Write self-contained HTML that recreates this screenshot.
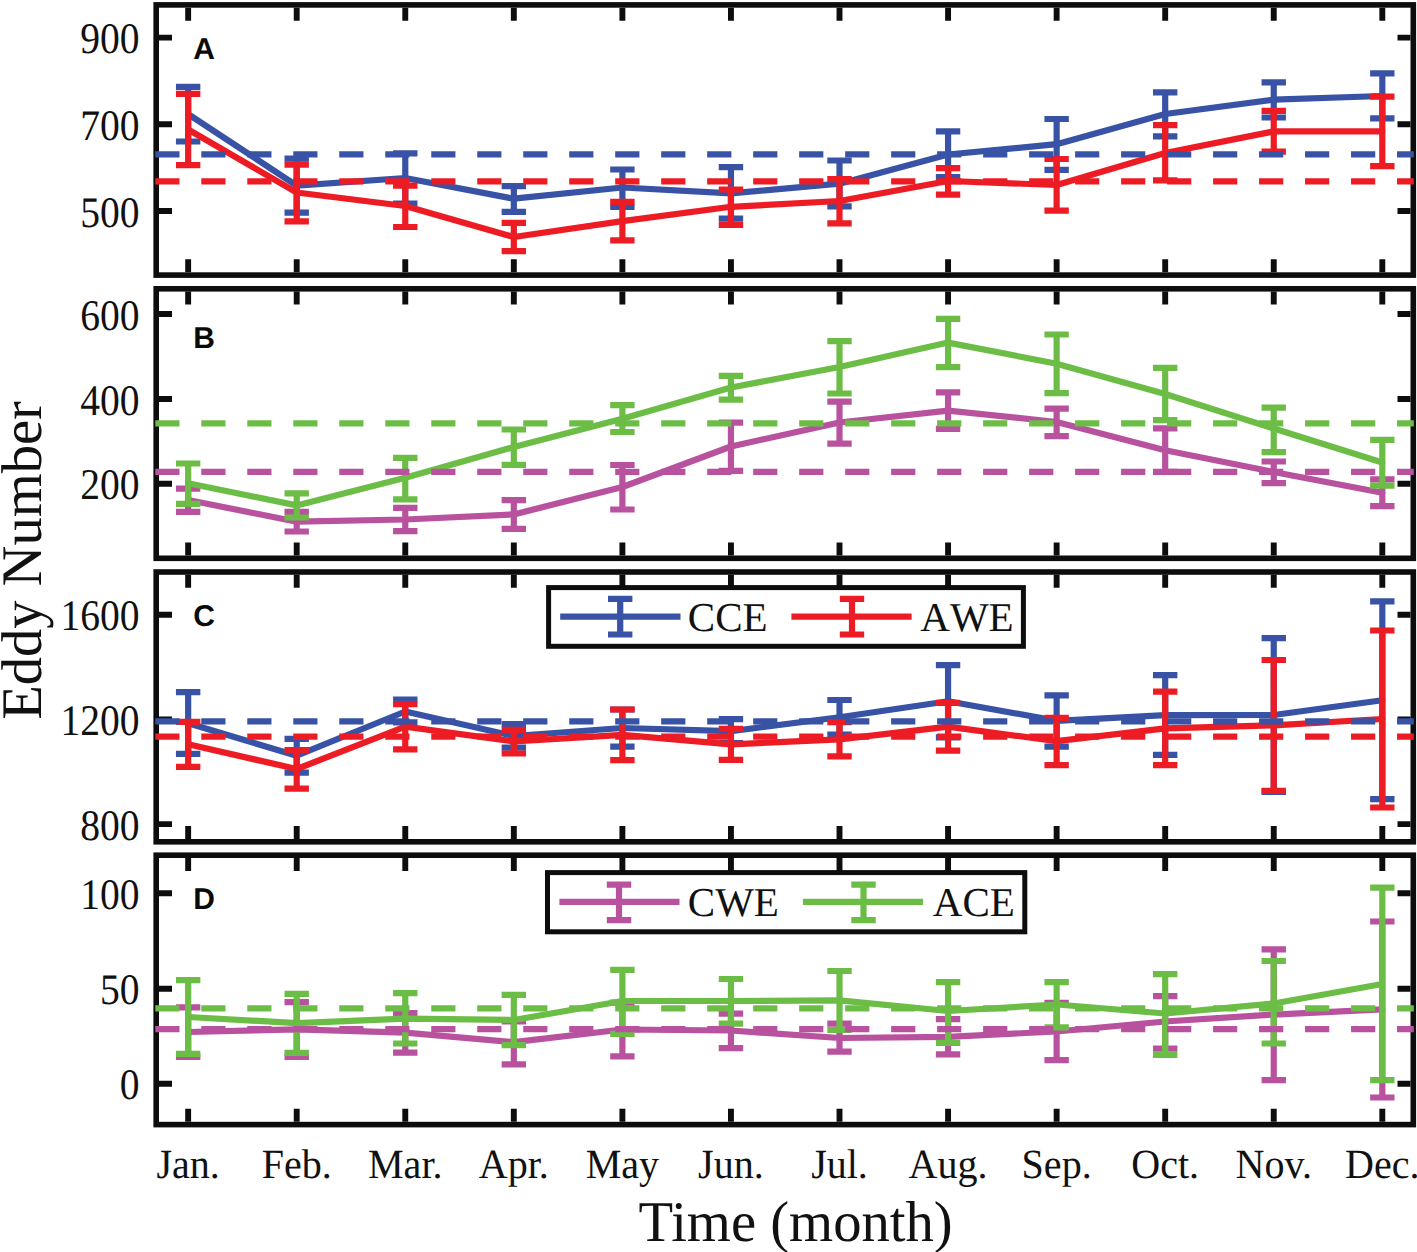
<!DOCTYPE html><html><head><meta charset="utf-8"><style>html,body{margin:0;padding:0;background:#fff;}body{width:1417px;height:1252px;overflow:hidden;position:relative;}svg{position:absolute;left:0;top:0;}.s{font-family:"Liberation Serif",serif;fill:#111;text-rendering:geometricPrecision;}.b{font-family:"Liberation Sans",sans-serif;font-weight:bold;fill:#0a0a0a;text-rendering:geometricPrecision;}</style></head><body>
<svg width="1417" height="1252" viewBox="0 0 1417 1252">
<rect x="156.2" y="4.9" width="1257.1" height="270.2" fill="none" stroke="#0d0d0d" stroke-width="5.6"/>
<path d="M188.15 7.7V20.7M188.15 272.3V259.3M296.71 7.7V20.7M296.71 272.3V259.3M405.27 7.7V20.7M405.27 272.3V259.3M513.83 7.7V20.7M513.83 272.3V259.3M622.39 7.7V20.7M622.39 272.3V259.3M730.95 7.7V20.7M730.95 272.3V259.3M839.51 7.7V20.7M839.51 272.3V259.3M948.07 7.7V20.7M948.07 272.3V259.3M1056.63 7.7V20.7M1056.63 272.3V259.3M1165.19 7.7V20.7M1165.19 272.3V259.3M1273.75 7.7V20.7M1273.75 272.3V259.3M1382.31 7.7V20.7M1382.31 272.3V259.3M159 37.6H172M1410.5 37.6H1397.5M159 124.3H172M1410.5 124.3H1397.5M159 211H172M1410.5 211H1397.5" stroke="#0d0d0d" stroke-width="5.9" fill="none"/>
<polyline points="188.15,114.2 296.71,185.6 405.27,178 513.83,198.7 622.39,187.5 730.95,193.3 839.51,183.7 948.07,154.5 1056.63,144.2 1165.19,114 1273.75,99.7 1382.31,96" fill="none" stroke="#3853a5" stroke-width="6.2" stroke-linejoin="round" stroke-linecap="round"/>
<path d="M188.15 86.8V141.5M175.95 86.8H200.35M175.95 141.5H200.35M296.71 158.6V212.6M284.51 158.6H308.91M284.51 212.6H308.91M405.27 153.3V203.7M393.07 153.3H417.47M393.07 203.7H417.47M513.83 186.2V211.8M501.63 186.2H526.03M501.63 211.8H526.03M622.39 169.5V207M610.19 169.5H634.59M610.19 207H634.59M730.95 167.1V218.7M718.75 167.1H743.15M718.75 218.7H743.15M839.51 160.5V206.3M827.31 160.5H851.71M827.31 206.3H851.71M948.07 131.3V177.1M935.87 131.3H960.27M935.87 177.1H960.27M1056.63 119V169.9M1044.43 119H1068.83M1044.43 169.9H1068.83M1165.19 92.3V136.4M1152.99 92.3H1177.39M1152.99 136.4H1177.39M1273.75 82.3V117.5M1261.55 82.3H1285.95M1261.55 117.5H1285.95M1382.31 73.3V118.3M1370.11 73.3H1394.51M1370.11 118.3H1394.51" fill="none" stroke="#3853a5" stroke-width="6.2"/>
<polyline points="188.15,129.5 296.71,192.5 405.27,206 513.83,237 622.39,221.1 730.95,206.8 839.51,201 948.07,181 1056.63,185 1165.19,153 1273.75,131.4 1382.31,131.4" fill="none" stroke="#ed1c24" stroke-width="6.2" stroke-linejoin="round" stroke-linecap="round"/>
<path d="M188.15 93.9V165.1M175.95 93.9H200.35M175.95 165.1H200.35M296.71 164.6V221.3M284.51 164.6H308.91M284.51 221.3H308.91M405.27 185.6V227M393.07 185.6H417.47M393.07 227H417.47M513.83 222.8V251.1M501.63 222.8H526.03M501.63 251.1H526.03M622.39 201.9V240.4M610.19 201.9H634.59M610.19 240.4H634.59M730.95 189.5V224.9M718.75 189.5H743.15M718.75 224.9H743.15M839.51 179.1V223.3M827.31 179.1H851.71M827.31 223.3H851.71M948.07 168.2V194.6M935.87 168.2H960.27M935.87 194.6H960.27M1056.63 159V210.6M1044.43 159H1068.83M1044.43 210.6H1068.83M1165.19 125.2V180.3M1152.99 125.2H1177.39M1152.99 180.3H1177.39M1273.75 110.9V151.7M1261.55 110.9H1285.95M1261.55 151.7H1285.95M1382.31 96.6V166.1M1370.11 96.6H1394.51M1370.11 166.1H1394.51" fill="none" stroke="#ed1c24" stroke-width="6.2"/>
<line x1="155.3" y1="154.3" x2="1413.8" y2="154.3" stroke="#3853a5" stroke-width="6.3" stroke-dasharray="24.2 21.79"/>
<line x1="155.3" y1="181.3" x2="1413.8" y2="181.3" stroke="#ed1c24" stroke-width="6.3" stroke-dasharray="24.2 21.79"/>
<text class="s" transform="translate(139.6 53.2) scale(0.905 1)" font-size="43.7" text-anchor="end">900</text>
<text class="s" transform="translate(139.6 139.9) scale(0.905 1)" font-size="43.7" text-anchor="end">700</text>
<text class="s" transform="translate(139.6 226.6) scale(0.905 1)" font-size="43.7" text-anchor="end">500</text>
<text class="b" x="193.2" y="58.6" font-size="30">A</text>
<rect x="156.2" y="288.8" width="1257.1" height="269.5" fill="none" stroke="#0d0d0d" stroke-width="5.6"/>
<path d="M188.15 291.6V304.6M188.15 555.5V542.5M296.71 291.6V304.6M296.71 555.5V542.5M405.27 291.6V304.6M405.27 555.5V542.5M513.83 291.6V304.6M513.83 555.5V542.5M622.39 291.6V304.6M622.39 555.5V542.5M730.95 291.6V304.6M730.95 555.5V542.5M839.51 291.6V304.6M839.51 555.5V542.5M948.07 291.6V304.6M948.07 555.5V542.5M1056.63 291.6V304.6M1056.63 555.5V542.5M1165.19 291.6V304.6M1165.19 555.5V542.5M1273.75 291.6V304.6M1273.75 555.5V542.5M1382.31 291.6V304.6M1382.31 555.5V542.5M159 314H172M1410.5 314H1397.5M159 399H172M1410.5 399H1397.5M159 483.8H172M1410.5 483.8H1397.5" stroke="#0d0d0d" stroke-width="5.9" fill="none"/>
<polyline points="188.15,500 296.71,521.7 405.27,519.5 513.83,514.4 622.39,487 730.95,446.5 839.51,422.5 948.07,410.6 1056.63,422 1165.19,450.2 1273.75,472 1382.31,492.8" fill="none" stroke="#b8529f" stroke-width="6.2" stroke-linejoin="round" stroke-linecap="round"/>
<path d="M188.15 488.6V511.9M175.95 488.6H200.35M175.95 511.9H200.35M296.71 511.9V531.5M284.51 511.9H308.91M284.51 531.5H308.91M405.27 507.9V531.2M393.07 507.9H417.47M393.07 531.2H417.47M513.83 500.1V528.9M501.63 500.1H526.03M501.63 528.9H526.03M622.39 465V509.5M610.19 465H634.59M610.19 509.5H634.59M730.95 422.6V470.9M718.75 422.6H743.15M718.75 470.9H743.15M839.51 401.7V443.6M827.31 401.7H851.71M827.31 443.6H851.71M948.07 392.4V428.9M935.87 392.4H960.27M935.87 428.9H960.27M1056.63 408.6V436.1M1044.43 408.6H1068.83M1044.43 436.1H1068.83M1165.19 428.3V471.8M1152.99 428.3H1177.39M1152.99 471.8H1177.39M1273.75 461.5V483.2M1261.55 461.5H1285.95M1261.55 483.2H1285.95M1382.31 479.4V506.1M1370.11 479.4H1394.51M1370.11 506.1H1394.51" fill="none" stroke="#b8529f" stroke-width="6.2"/>
<polyline points="188.15,483.3 296.71,505.4 405.27,477.8 513.83,447 622.39,418.7 730.95,387.5 839.51,367 948.07,342.6 1056.63,363.7 1165.19,394 1273.75,428.5 1382.31,462.5" fill="none" stroke="#6cbd45" stroke-width="6.2" stroke-linejoin="round" stroke-linecap="round"/>
<path d="M188.15 463.5V503.8M175.95 463.5H200.35M175.95 503.8H200.35M296.71 493.3V517.5M284.51 493.3H308.91M284.51 517.5H308.91M405.27 457.8V499.4M393.07 457.8H417.47M393.07 499.4H417.47M513.83 429.5V464.9M501.63 429.5H526.03M501.63 464.9H526.03M622.39 405.2V432M610.19 405.2H634.59M610.19 432H634.59M730.95 375.8V399.6M718.75 375.8H743.15M718.75 399.6H743.15M839.51 341.1V393.5M827.31 341.1H851.71M827.31 393.5H851.71M948.07 318.9V367.1M935.87 318.9H960.27M935.87 367.1H960.27M1056.63 334.5V393.1M1044.43 334.5H1068.83M1044.43 393.1H1068.83M1165.19 367.8V420.2M1152.99 367.8H1177.39M1152.99 420.2H1177.39M1273.75 407.6V452.2M1261.55 407.6H1285.95M1261.55 452.2H1285.95M1382.31 439.8V485.6M1370.11 439.8H1394.51M1370.11 485.6H1394.51" fill="none" stroke="#6cbd45" stroke-width="6.2"/>
<line x1="155.3" y1="471.9" x2="1413.8" y2="471.9" stroke="#b8529f" stroke-width="6.3" stroke-dasharray="24.2 21.79"/>
<line x1="155.3" y1="423.4" x2="1413.8" y2="423.4" stroke="#6cbd45" stroke-width="6.3" stroke-dasharray="24.2 21.79"/>
<text class="s" transform="translate(139.6 329.6) scale(0.905 1)" font-size="43.7" text-anchor="end">600</text>
<text class="s" transform="translate(139.6 414.6) scale(0.905 1)" font-size="43.7" text-anchor="end">400</text>
<text class="s" transform="translate(139.6 499.4) scale(0.905 1)" font-size="43.7" text-anchor="end">200</text>
<text class="b" x="193.2" y="347.9" font-size="30">B</text>
<rect x="156.2" y="572" width="1257.1" height="269.8" fill="none" stroke="#0d0d0d" stroke-width="5.6"/>
<path d="M188.15 574.8V587.8M188.15 839V826M296.71 574.8V587.8M296.71 839V826M405.27 574.8V587.8M405.27 839V826M513.83 574.8V587.8M513.83 839V826M622.39 574.8V587.8M622.39 839V826M730.95 574.8V587.8M730.95 839V826M839.51 574.8V587.8M839.51 839V826M948.07 574.8V587.8M948.07 839V826M1056.63 574.8V587.8M1056.63 839V826M1165.19 574.8V587.8M1165.19 839V826M1273.75 574.8V587.8M1273.75 839V826M1382.31 574.8V587.8M1382.31 839V826M159 614.7H172M1410.5 614.7H1397.5M159 719.4H172M1410.5 719.4H1397.5M159 824.1H172M1410.5 824.1H1397.5" stroke="#0d0d0d" stroke-width="5.9" fill="none"/>
<polyline points="188.15,723.2 296.71,755.7 405.27,711.5 513.83,736 622.39,728 730.95,731.2 839.51,717.2 948.07,701.2 1056.63,720.8 1165.19,715.1 1273.75,715 1382.31,700.3" fill="none" stroke="#3853a5" stroke-width="6.2" stroke-linejoin="round" stroke-linecap="round"/>
<path d="M188.15 692.1V753.9M175.95 692.1H200.35M175.95 753.9H200.35M296.71 738.9V772.6M284.51 738.9H308.91M284.51 772.6H308.91M405.27 699.6V722.4M393.07 699.6H417.47M393.07 722.4H417.47M513.83 724V747.7M501.63 724H526.03M501.63 747.7H526.03M622.39 709.5V746.6M610.19 709.5H634.59M610.19 746.6H634.59M730.95 719.2V743.2M718.75 719.2H743.15M718.75 743.2H743.15M839.51 700V734.6M827.31 700H851.71M827.31 734.6H851.71M948.07 665.1V737.3M935.87 665.1H960.27M935.87 737.3H960.27M1056.63 695.3V746.6M1044.43 695.3H1068.83M1044.43 746.6H1068.83M1165.19 675.2V754.8M1152.99 675.2H1177.39M1152.99 754.8H1177.39M1273.75 638.2V791.8M1261.55 638.2H1285.95M1261.55 791.8H1285.95M1382.31 601.4V799.2M1370.11 601.4H1394.51M1370.11 799.2H1394.51" fill="none" stroke="#3853a5" stroke-width="6.2"/>
<polyline points="188.15,744.3 296.71,769 405.27,726.6 513.83,741.5 622.39,734.8 730.95,744.3 839.51,739.3 948.07,726.6 1056.63,741.2 1165.19,728.4 1273.75,725.4 1382.31,719" fill="none" stroke="#ed1c24" stroke-width="6.2" stroke-linejoin="round" stroke-linecap="round"/>
<path d="M188.15 721.8V766.8M175.95 721.8H200.35M175.95 766.8H200.35M296.71 750V788.6M284.51 750H308.91M284.51 788.6H308.91M405.27 704.2V749.3M393.07 704.2H417.47M393.07 749.3H417.47M513.83 729.9V753.5M501.63 729.9H526.03M501.63 753.5H526.03M622.39 709.5V760.2M610.19 709.5H634.59M610.19 760.2H634.59M730.95 728.8V759.9M718.75 728.8H743.15M718.75 759.9H743.15M839.51 722.2V756.3M827.31 722.2H851.71M827.31 756.3H851.71M948.07 702.8V750.6M935.87 702.8H960.27M935.87 750.6H960.27M1056.63 717.8V765.2M1044.43 717.8H1068.83M1044.43 765.2H1068.83M1165.19 691.6V765.2M1152.99 691.6H1177.39M1152.99 765.2H1177.39M1273.75 660V790.8M1261.55 660H1285.95M1261.55 790.8H1285.95M1382.31 630.5V807.5M1370.11 630.5H1394.51M1370.11 807.5H1394.51" fill="none" stroke="#ed1c24" stroke-width="6.2"/>
<line x1="155.3" y1="721.3" x2="1413.8" y2="721.3" stroke="#3853a5" stroke-width="6.3" stroke-dasharray="24.2 21.79"/>
<line x1="155.3" y1="736.7" x2="1413.8" y2="736.7" stroke="#ed1c24" stroke-width="6.3" stroke-dasharray="24.2 21.79"/>
<text class="s" transform="translate(139.6 630.3) scale(0.905 1)" font-size="43.7" text-anchor="end">1600</text>
<text class="s" transform="translate(139.6 735) scale(0.905 1)" font-size="43.7" text-anchor="end">1200</text>
<text class="s" transform="translate(139.6 839.7) scale(0.905 1)" font-size="43.7" text-anchor="end">800</text>
<text class="b" x="193.2" y="625.6" font-size="30">C</text>
<rect x="156.2" y="855.2" width="1257.1" height="269.4" fill="none" stroke="#0d0d0d" stroke-width="5.6"/>
<path d="M188.15 858V871M188.15 1121.8V1108.8M296.71 858V871M296.71 1121.8V1108.8M405.27 858V871M405.27 1121.8V1108.8M513.83 858V871M513.83 1121.8V1108.8M622.39 858V871M622.39 1121.8V1108.8M730.95 858V871M730.95 1121.8V1108.8M839.51 858V871M839.51 1121.8V1108.8M948.07 858V871M948.07 1121.8V1108.8M1056.63 858V871M1056.63 1121.8V1108.8M1165.19 858V871M1165.19 1121.8V1108.8M1273.75 858V871M1273.75 1121.8V1108.8M1382.31 858V871M1382.31 1121.8V1108.8M159 893.2H172M1410.5 893.2H1397.5M159 988.7H172M1410.5 988.7H1397.5M159 1083.7H172M1410.5 1083.7H1397.5" stroke="#0d0d0d" stroke-width="5.9" fill="none"/>
<polyline points="188.15,1032 296.71,1029.4 405.27,1032.6 513.83,1042.2 622.39,1029.5 730.95,1030.5 839.51,1038 948.07,1036.8 1056.63,1031.5 1165.19,1021.5 1273.75,1014.6 1382.31,1009.4" fill="none" stroke="#b8529f" stroke-width="6.2" stroke-linejoin="round" stroke-linecap="round"/>
<path d="M188.15 1007.4V1057M175.95 1007.4H200.35M175.95 1057H200.35M296.71 1002.2V1057M284.51 1002.2H308.91M284.51 1057H308.91M405.27 1013.1V1052.7M393.07 1013.1H417.47M393.07 1052.7H417.47M513.83 1021.3V1064.3M501.63 1021.3H526.03M501.63 1064.3H526.03M622.39 1002.7V1056.3M610.19 1002.7H634.59M610.19 1056.3H634.59M730.95 1013.7V1048.1M718.75 1013.7H743.15M718.75 1048.1H743.15M839.51 1023.7V1051.7M827.31 1023.7H851.71M827.31 1051.7H851.71M948.07 1019.1V1054.3M935.87 1019.1H960.27M935.87 1054.3H960.27M1056.63 1002.8V1060.2M1044.43 1002.8H1068.83M1044.43 1060.2H1068.83M1165.19 996.1V1048.6M1152.99 996.1H1177.39M1152.99 1048.6H1177.39M1273.75 949.4V1080.2M1261.55 949.4H1285.95M1261.55 1080.2H1285.95M1382.31 921.5V1097.5M1370.11 921.5H1394.51M1370.11 1097.5H1394.51" fill="none" stroke="#b8529f" stroke-width="6.2"/>
<polyline points="188.15,1017 296.71,1023.1 405.27,1018.6 513.83,1020 622.39,1001 730.95,1001 839.51,1000.3 948.07,1011 1056.63,1004.5 1165.19,1013.5 1273.75,1003.5 1382.31,984" fill="none" stroke="#6cbd45" stroke-width="6.2" stroke-linejoin="round" stroke-linecap="round"/>
<path d="M188.15 980.2V1053.9M175.95 980.2H200.35M175.95 1053.9H200.35M296.71 993.8V1052.8M284.51 993.8H308.91M284.51 1052.8H308.91M405.27 993.1V1043.5M393.07 993.1H417.47M393.07 1043.5H417.47M513.83 994.9V1045.1M501.63 994.9H526.03M501.63 1045.1H526.03M622.39 969.9V1033.8M610.19 969.9H634.59M610.19 1033.8H634.59M730.95 979V1023.7M718.75 979H743.15M718.75 1023.7H743.15M839.51 971V1030M827.31 971H851.71M827.31 1030H851.71M948.07 982.1V1042.8M935.87 982.1H960.27M935.87 1042.8H960.27M1056.63 982.1V1027.3M1044.43 982.1H1068.83M1044.43 1027.3H1068.83M1165.19 974.1V1054.8M1152.99 974.1H1177.39M1152.99 1054.8H1177.39M1273.75 961V1043.5M1261.55 961H1285.95M1261.55 1043.5H1285.95M1382.31 887.7V1080.2M1370.11 887.7H1394.51M1370.11 1080.2H1394.51" fill="none" stroke="#6cbd45" stroke-width="6.2"/>
<line x1="155.3" y1="1029.2" x2="1413.8" y2="1029.2" stroke="#b8529f" stroke-width="6.3" stroke-dasharray="24.2 21.79"/>
<line x1="155.3" y1="1008.3" x2="1413.8" y2="1008.3" stroke="#6cbd45" stroke-width="6.3" stroke-dasharray="24.2 21.79"/>
<text class="s" transform="translate(139.6 908.8) scale(0.905 1)" font-size="43.7" text-anchor="end">100</text>
<text class="s" transform="translate(139.6 1004.3) scale(0.905 1)" font-size="43.7" text-anchor="end">50</text>
<text class="s" transform="translate(139.6 1099.3) scale(0.905 1)" font-size="43.7" text-anchor="end">0</text>
<text class="b" x="193.2" y="908.6" font-size="30">D</text>
<rect x="548.6" y="587.6" width="474.8" height="58.7" fill="#fff" stroke="#0d0d0d" stroke-width="5"/>
<path d="M560.2 616.6H680.5" stroke="#3853a5" stroke-width="6.2"/>
<path d="M620.2 598.8V634.5M608 598.8H632.4M608 634.5H632.4" stroke="#3853a5" stroke-width="6.2" fill="none"/>
<text class="s" x="687.8" y="631.3" font-size="41" style="font-kerning:none">CCE</text>
<path d="M791.4 616.6H911.6" stroke="#ed1c24" stroke-width="6.2"/>
<path d="M852 598.8V634.5M839.8 598.8H864.2M839.8 634.5H864.2" stroke="#ed1c24" stroke-width="6.2" fill="none"/>
<text class="s" x="920.3" y="631.3" font-size="41" style="font-kerning:none">AWE</text>
<rect x="547.5" y="872.6" width="477.3" height="59.2" fill="#fff" stroke="#0d0d0d" stroke-width="5"/>
<path d="M559.4 901.8H679.5" stroke="#b8529f" stroke-width="6.2"/>
<path d="M619 884.6V920.1M606.8 884.6H631.2M606.8 920.1H631.2" stroke="#b8529f" stroke-width="6.2" fill="none"/>
<text class="s" x="687.8" y="916.3" font-size="41" style="font-kerning:none">CWE</text>
<path d="M802.9 901.8H923.1" stroke="#6cbd45" stroke-width="6.2"/>
<path d="M863.5 884.6V920.1M851.3 884.6H875.7M851.3 920.1H875.7" stroke="#6cbd45" stroke-width="6.2" fill="none"/>
<text class="s" x="932.8" y="916.3" font-size="41" style="font-kerning:none">ACE</text>
<text class="s" transform="translate(188.15 1177.9) scale(0.965 1)" font-size="41.5" text-anchor="middle">Jan.</text>
<text class="s" transform="translate(296.71 1177.9) scale(0.965 1)" font-size="41.5" text-anchor="middle">Feb.</text>
<text class="s" transform="translate(405.27 1177.9) scale(0.965 1)" font-size="41.5" text-anchor="middle">Mar.</text>
<text class="s" transform="translate(513.83 1177.9) scale(0.965 1)" font-size="41.5" text-anchor="middle">Apr.</text>
<text class="s" transform="translate(622.39 1177.9) scale(0.965 1)" font-size="41.5" text-anchor="middle">May</text>
<text class="s" transform="translate(730.95 1177.9) scale(0.965 1)" font-size="41.5" text-anchor="middle">Jun.</text>
<text class="s" transform="translate(839.51 1177.9) scale(0.965 1)" font-size="41.5" text-anchor="middle">Jul.</text>
<text class="s" transform="translate(948.07 1177.9) scale(0.965 1)" font-size="41.5" text-anchor="middle">Aug.</text>
<text class="s" transform="translate(1056.63 1177.9) scale(0.965 1)" font-size="41.5" text-anchor="middle">Sep.</text>
<text class="s" transform="translate(1165.19 1177.9) scale(0.965 1)" font-size="41.5" text-anchor="middle">Oct.</text>
<text class="s" transform="translate(1273.75 1177.9) scale(0.965 1)" font-size="41.5" text-anchor="middle">Nov.</text>
<text class="s" transform="translate(1382.31 1177.9) scale(0.965 1)" font-size="41.5" text-anchor="middle">Dec.</text>
<text class="s" transform="translate(795.6 1241.2) scale(0.985 1)" font-size="57.5" text-anchor="middle">Time (month)</text>
<text class="s" transform="translate(40.7 560.5) rotate(-90) scale(0.985 1)" font-size="57.4" text-anchor="middle">Eddy Number</text>
</svg></body></html>
